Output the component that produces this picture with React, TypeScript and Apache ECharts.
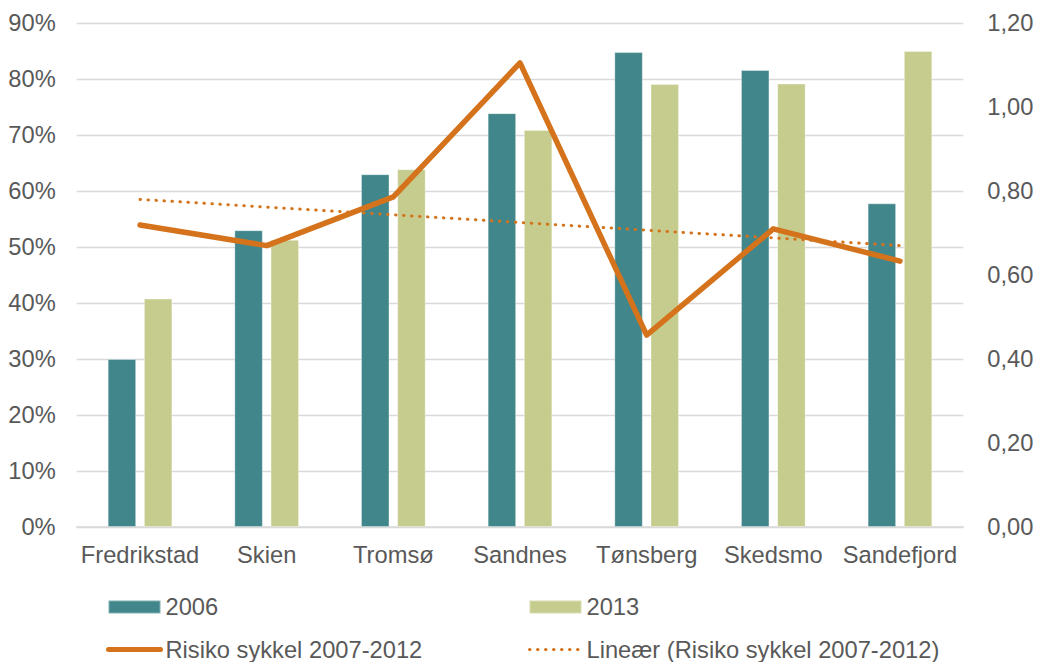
import React, { useEffect, useRef } from 'react';
import * as echarts from 'echarts';

const categories = ['Fredrikstad', 'Skien', 'Tromsø', 'Sandnes', 'Tønsberg', 'Skedsmo', 'Sandefjord'];
const values2006 = [30, 53, 63, 73.9, 84.8, 81.6, 57.8];
const values2013 = [40.8, 51.3, 63.9, 70.9, 79.1, 79.2, 85];
const riskValues = [0.719, 0.67, 0.786, 1.105, 0.457, 0.71, 0.633];
const trendEnds = [0.78, 0.67];
const seriesNames = ['2006', '2013', 'Risiko sykkel 2007-2012', 'Lineær (Risiko sykkel 2007-2012)'];
const leftAxis = { min: 0, max: 90, interval: 10 };
const rightAxis = { min: 0, max: 1.2, interval: 0.2 };

const FONT = 'Liberation Sans, Arial, sans-serif';
const TEXT = '#595959';
const GRID = '#d9d9d9';
const TEAL = '#41868B';
const GREEN = '#C6CC8E';
const ORANGE = '#D4731C';
const FS = 23.7;

export default function App() {
  const ref = useRef<HTMLDivElement>(null);
  useEffect(() => {
    if (!ref.current) return;
    const chart = echarts.init(ref.current, null, { renderer: 'svg' });
    const labelStyle = { color: TEXT, fontSize: FS, fontFamily: FONT };
    const hiddenSymbol = { color: 'rgba(0,0,0,0)', borderWidth: 0, opacity: 0 };
    const solidLine = { color: ORANGE, width: 5.5, cap: 'round', join: 'round' };
    const dottedLine = { color: ORANGE, width: 3, type: [0.5, 7.5], cap: 'round' };
    const legendBase = {
      orient: 'vertical',
      top: 595,
      padding: 0,
      itemWidth: 52,
      itemHeight: 13,
      itemGap: 18.5,
      textStyle: { ...labelStyle, lineHeight: 24 },
    };
    chart.setOption({
      animation: false,
      backgroundColor: '#ffffff',
      grid: { left: 76.7, right: 74.7, top: 23, bottom: 135, containLabel: false, outerBoundsMode: 'none' },
      legend: [
        {
          ...legendBase,
          left: 106,
          data: [
            { name: seriesNames[0], icon: 'rect' },
            { name: seriesNames[2], itemStyle: hiddenSymbol, lineStyle: { ...solidLine, width: 5 } },
          ],
        },
        {
          ...legendBase,
          left: 528,
          data: [
            { name: seriesNames[1], icon: 'rect' },
            { name: seriesNames[3], itemStyle: hiddenSymbol, lineStyle: dottedLine },
          ],
        },
      ],
      xAxis: {
        type: 'category',
        data: categories,
        axisTick: { show: false },
        axisLine: { lineStyle: { color: GRID, width: 1.5 } },
        axisLabel: { ...labelStyle, margin: 16, interval: 0 },
      },
      yAxis: [
        {
          type: 'value',
          ...leftAxis,
          axisLine: { show: false },
          axisTick: { show: false },
          axisLabel: { ...labelStyle, margin: 21, formatter: '{value}%' },
          splitLine: { lineStyle: { color: GRID, width: 1.3 } },
        },
        {
          type: 'value',
          ...rightAxis,
          axisLine: { show: false },
          axisTick: { show: false },
          axisLabel: {
            ...labelStyle,
            margin: 24,
            formatter: (v: number) => v.toFixed(2).replace('.', ','),
          },
          splitLine: { show: false },
        },
      ],
      series: [
        {
          name: seriesNames[0],
          type: 'bar',
          data: values2006,
          barWidth: 28.5,
          barGap: '27%',
          itemStyle: { color: TEAL, borderColor: 'rgba(255,255,255,0.35)', borderWidth: 1 },
        },
        {
          name: seriesNames[1],
          type: 'bar',
          data: values2013,
          barWidth: 28.5,
          barGap: '27%',
          itemStyle: { color: GREEN, borderColor: 'rgba(255,255,255,0.35)', borderWidth: 1 },
        },
        {
          name: seriesNames[3],
          type: 'line',
          yAxisIndex: 1,
          data: [
            [0, trendEnds[0]],
            [categories.length - 1, trendEnds[1]],
          ],
          symbol: 'none',
          itemStyle: { color: ORANGE },
          lineStyle: dottedLine,
          z: 3,
        },
        {
          name: seriesNames[2],
          type: 'line',
          yAxisIndex: 1,
          data: riskValues,
          symbol: 'none',
          itemStyle: { color: ORANGE },
          lineStyle: solidLine,
          z: 4,
        },
      ],
    });
    return () => chart.dispose();
  }, []);
  return (
    <div
      ref={ref}
      style={{ position: 'fixed', left: 0, top: 0, width: 1038, height: 662, background: '#fff' }}
    />
  );
}
